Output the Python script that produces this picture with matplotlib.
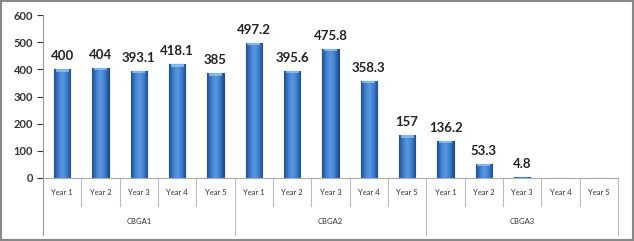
import numpy as np
import matplotlib
matplotlib.use("Agg")
import matplotlib.pyplot as plt
from matplotlib.patches import Rectangle
from matplotlib.colors import LinearSegmentedColormap
from matplotlib.transforms import blended_transform_factory

plt.rcParams['font.family'] = ['Lato', 'DejaVu Sans']

years = ["Year 1", "Year 2", "Year 3", "Year 4", "Year 5"]
groups = ["CBGA1", "CBGA2", "CBGA3"]
values = [400, 404, 393.1, 418.1, 385,
          497.2, 395.6, 475.8, 358.3, 157,
          136.2, 53.3, 4.8, np.nan, np.nan]
labels = ["400", "404", "393.1", "418.1", "385",
          "497.2", "395.6", "475.8", "358.3", "157",
          "136.2", "53.3", "4.8", "", ""]

fig = plt.figure(figsize=(6.34, 2.41), dpi=100)
ax = fig.add_axes([43/634, 1-178/241, (618-43)/634, 163/241])

n = len(values)
x = np.arange(n)
vals = np.nan_to_num(np.array(values, dtype=float))
bars = ax.bar(x, vals, width=0.42, color="#3B7AC8", edgecolor="#1E4A86", linewidth=0.8, zorder=2)

cmap = LinearSegmentedColormap.from_list("g", ["#1F4F8E", "#3F7FCF", "#5A98E0", "#3F7FCF", "#1F4F8E"])
grad = np.linspace(0, 1, 64).reshape(1, -1)
for b, v in zip(bars, vals):
    if v <= 0:
        continue
    x0 = b.get_x(); w = b.get_width()
    im = ax.imshow(grad, cmap=cmap, aspect='auto', extent=[x0, x0+w, 0, v], zorder=2.5)
    im.set_clip_path(b)
    capy = min(8, v*0.6)
    ax.add_patch(Rectangle((x0+w*0.1, v-capy), w*0.8, capy, facecolor="#8FC3F2", edgecolor='none', alpha=0.8, zorder=3))

for xi, v, lab in zip(x, vals, labels):
    if lab:
        ax.annotate(lab, (xi, v), xytext=(0, 5), textcoords='offset points',
                    ha='center', va='bottom', fontsize=9.5, fontweight='bold', color='#222222')

ax.set_xlim(-0.5, n-0.5)
ax.set_ylim(0, 600)
ax.set_yticks(range(0, 601, 100))
ax.tick_params(axis='y', labelsize=8, colors='#333333', length=4, width=0.8, direction='out', pad=3)
for t in ax.get_yticklabels():
    t.set_fontweight('bold')
ax.set_xticks([])
for s in ['top', 'right']:
    ax.spines[s].set_visible(False)
ax.spines['left'].set_color('#999999')
ax.spines['bottom'].set_color('#aaaaaa')
ax.spines['left'].set_bounds(0, 600)

tr = blended_transform_factory(ax.transData, ax.transAxes)
ax.plot([-0.5, -0.5], [0, -0.35], transform=tr, color='#999999', lw=0.8, clip_on=False)
for i in range(1, n+1):
    xb = i - 0.5
    bottom = -0.35 if i % 5 == 0 else -0.172
    ax.plot([xb, xb], [0, bottom], transform=tr, color='#bbbbbb', lw=0.8, clip_on=False)

for i in range(n):
    ax.text(i, -0.092, years[i % 5], transform=tr, ha='center', va='center', fontsize=5.5, color='#333333')
for g, name in enumerate(groups):
    ax.text(g*5+2, -0.264, name, transform=tr, ha='center', va='center', fontsize=5.5, color='#333333')

fig.add_artist(Rectangle((0.002, 0.004), 0.996, 0.992, transform=fig.transFigure, fill=False,
                         edgecolor='#888888', lw=1.5))

fig.savefig("out.png", dpi=100)
